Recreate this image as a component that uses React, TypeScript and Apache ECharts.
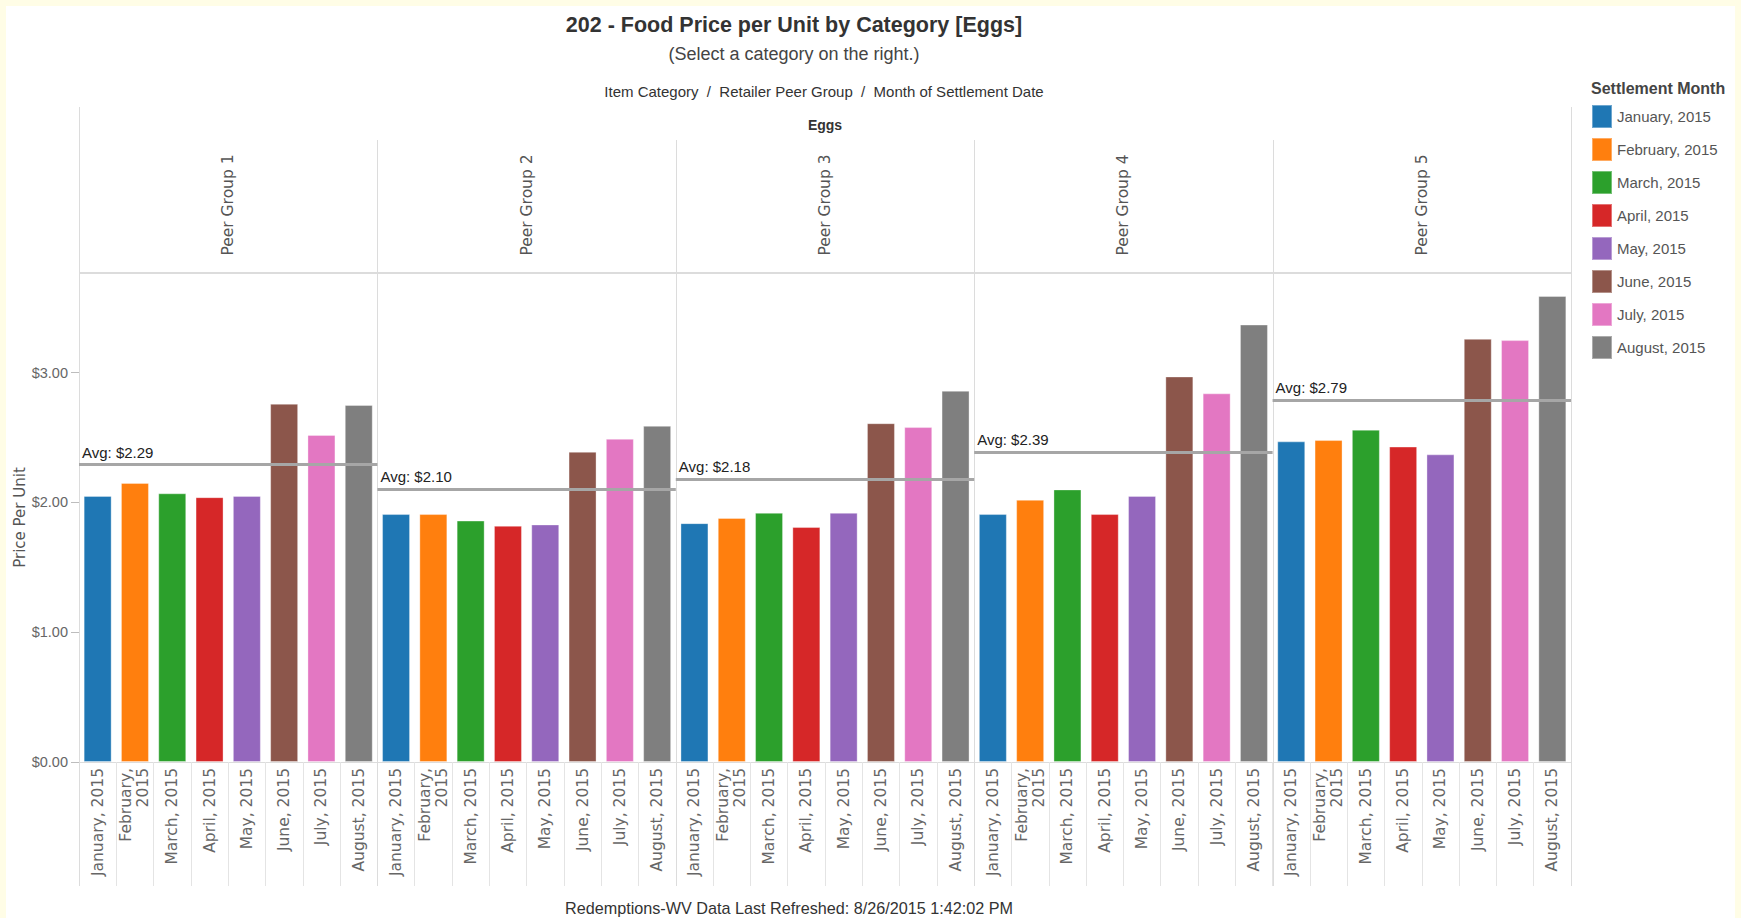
import React, { useEffect, useRef } from "react";
import * as echarts from "echarts";

// ---------------- data ----------------
const CATEGORY = "Eggs";
const PEER_GROUPS = ["Peer Group 1", "Peer Group 2", "Peer Group 3", "Peer Group 4", "Peer Group 5"];
const MONTHS = [
  "January, 2015",
  "February, 2015",
  "March, 2015",
  "April, 2015",
  "May, 2015",
  "June, 2015",
  "July, 2015",
  "August, 2015",
];
const PRICES_G1 = [2.05, 2.15, 2.07, 2.04, 2.05, 2.76, 2.52, 2.75];
const PRICES_G2 = [1.91, 1.91, 1.86, 1.82, 1.83, 2.39, 2.49, 2.59];
const PRICES_G3 = [1.84, 1.88, 1.92, 1.81, 1.92, 2.61, 2.58, 2.86];
const PRICES_G4 = [1.91, 2.02, 2.1, 1.91, 2.05, 2.97, 2.84, 3.37];
const PRICES_G5 = [2.47, 2.48, 2.56, 2.43, 2.37, 3.26, 3.25, 3.59];
const AVERAGES = [2.29, 2.1, 2.18, 2.39, 2.79];
const Y_TICKS = [0, 1, 2, 3];
const COLORS = ["#1f77b4", "#ff7f0e", "#2ca02c", "#d62728", "#9467bd", "#8c564b", "#e377c2", "#7f7f7f"];

const PRICES = [PRICES_G1, PRICES_G2, PRICES_G3, PRICES_G4, PRICES_G5];

// ---------------- layout ----------------
const PLOT_L = 79;
const PLOT_R = 1571;
const PLOT_T = 273;
const PLOT_B = 762;
const PANEL_W = (PLOT_R - PLOT_L) / 5;
const Y_MAX = 3.767;
const LINE_C = "#dcdcdc";
const SANS = "'Liberation Sans', Arial, sans-serif";
const WIDE = "'DejaVu Sans', sans-serif";

function buildOption() {
  const grids = PEER_GROUPS.map((_, g) => ({
    left: PLOT_L + g * PANEL_W,
    top: PLOT_T,
    width: PANEL_W,
    height: PLOT_B - PLOT_T,
    containLabel: false,
  }));

  const xAxes = PEER_GROUPS.map((_, g) => ({
    type: "category",
    gridIndex: g,
    data: MONTHS,
    axisLine: { show: true, lineStyle: { color: LINE_C, width: 1 } },
    axisTick: { show: true, interval: 0, length: 124, lineStyle: { color: "#e4e4e4" } },
    axisLabel: {
      interval: 0,
      rotate: 90,
      margin: 6,
      fontFamily: WIDE,
      fontSize: 15.5,
      color: "#666",
      lineHeight: 17,
      formatter: (v: string) => (v.length > 13 ? v.replace(", ", ",\n") : v),
    },
    splitLine: { show: false },
  }));

  const yAxes = PEER_GROUPS.map((_, g) => ({
    type: "value",
    gridIndex: g,
    min: 0,
    max: Y_MAX,
    show: g === 0,
    splitLine: { show: false },
    axisLine: { show: false },
    axisTick: {
      show: g === 0,
      length: 8,
      customValues: Y_TICKS,
      lineStyle: { color: "#bdbdbd" },
    },
    axisLabel: {
      show: g === 0,
      customValues: Y_TICKS,
      margin: 11,
      fontFamily: SANS,
      fontSize: 14.5,
      color: "#666",
      formatter: (v: number) => (Number.isInteger(v) ? "$" + v.toFixed(2) : ""),
    },
    name: g === 0 ? "Price Per Unit" : "",
    nameLocation: "middle",
    nameRotate: 90,
    nameGap: 52,
    nameTextStyle: { fontFamily: WIDE, fontSize: 15, color: "#555" },
  }));

  const series: any[] = [];
  PEER_GROUPS.forEach((_, g) => {
    MONTHS.forEach((month, m) => {
      const s: any = {
        type: "bar",
        name: month,
        xAxisIndex: g,
        yAxisIndex: g,
        stack: "group" + g,
        barWidth: 28,
        itemStyle: { color: COLORS[m], borderColor: "rgba(255,255,255,0.35)", borderWidth: 1 },
        data: MONTHS.map((_, k) => (k === m ? PRICES[g][m] : "-")),
      };
      if (m === 0) {
        s.markLine = {
          silent: true,
          symbol: "none",
          z: 10,
          data: [{ yAxis: AVERAGES[g] }],
          lineStyle: { color: "#a6a6a6", width: 3, type: "solid" },
          label: {
            show: true,
            position: "insideStartTop",
            distance: [3, 5],
            formatter: "Avg: $" + AVERAGES[g].toFixed(2),
            fontFamily: SANS,
            fontSize: 15,
            color: "#222",
          },
        };
      }
      series.push(s);
    });
  });

  const graphics: any[] = [];
  graphics.push({
    type: "rect",
    z: -10,
    shape: { x: 6, y: 6, width: 1729, height: 920 },
    style: { fill: "#ffffff" },
    silent: true,
  });
  graphics.push({
    type: "line",
    z: 1,
    shape: { x1: PLOT_L + 0.5, y1: 107, x2: PLOT_L + 0.5, y2: 886 },
    style: { stroke: LINE_C, lineWidth: 1 },
    silent: true,
  });
  graphics.push({
    type: "line",
    z: 1,
    shape: { x1: PLOT_R + 0.5, y1: 107, x2: PLOT_R + 0.5, y2: 886 },
    style: { stroke: LINE_C, lineWidth: 1 },
    silent: true,
  });
  for (let i = 1; i < 5; i++) {
    const x = Math.round(PLOT_L + i * PANEL_W) + 0.5;
    graphics.push({
      type: "line",
      z: 1,
      shape: { x1: x, y1: 140, x2: x, y2: 886 },
      style: { stroke: LINE_C, lineWidth: 1 },
      silent: true,
    });
  }
  graphics.push({
    type: "line",
    z: 1,
    shape: { x1: PLOT_L, y1: PLOT_T, x2: PLOT_R, y2: PLOT_T },
    style: { stroke: LINE_C, lineWidth: 2 },
    silent: true,
  });
  graphics.push({
    type: "text",
    x: 824,
    y: 91,
    style: {
      text: "Item Category  /  Retailer Peer Group  /  Month of Settlement Date",
      fontFamily: SANS,
      fontSize: 15,
      fill: "#333",
      align: "center",
      verticalAlign: "middle",
    },
  });
  graphics.push({
    type: "text",
    x: (PLOT_L + PLOT_R) / 2,
    y: 125,
    style: {
      text: CATEGORY,
      fontFamily: SANS,
      fontSize: 14,
      fontWeight: "bold",
      fill: "#333",
      align: "center",
      verticalAlign: "middle",
    },
  });
  PEER_GROUPS.forEach((name, g) => {
    graphics.push({
      type: "text",
      x: PLOT_L + (g + 0.5) * PANEL_W,
      y: 205,
      rotation: Math.PI / 2,
      style: {
        text: name,
        fontFamily: WIDE,
        fontSize: 15.5,
        fill: "#555",
        align: "center",
        verticalAlign: "middle",
      },
    });
  });
  graphics.push({
    type: "text",
    x: 1591,
    y: 88,
    style: {
      text: "Settlement Month",
      fontFamily: SANS,
      fontSize: 16,
      fontWeight: "bold",
      fill: "#444",
      align: "left",
      verticalAlign: "middle",
    },
  });
  graphics.push({
    type: "text",
    x: 789,
    y: 908,
    style: {
      text: "Redemptions-WV Data Last Refreshed: 8/26/2015 1:42:02 PM",
      fontFamily: SANS,
      fontSize: 16.2,
      fill: "#333",
      align: "center",
      verticalAlign: "middle",
    },
  });

  return {
    animation: false,
    backgroundColor: "#fffde6",
    textStyle: { fontFamily: SANS },
    title: {
      text: "202 - Food Price per Unit by Category [" + CATEGORY + "]",
      subtext: "(Select a category on the right.)",
      left: 789,
      textAlign: "center",
      top: 9,
      itemGap: 9,
      textStyle: { fontFamily: SANS, fontSize: 21.5, fontWeight: "bold", color: "#333" },
      subtextStyle: { fontFamily: SANS, fontSize: 18, color: "#444" },
    },
    legend: {
      data: MONTHS,
      orient: "vertical",
      left: 1591,
      top: 104,
      padding: 0,
      itemWidth: 20,
      itemHeight: 23,
      itemGap: 8,
      icon: "rect",
      selectedMode: false,
      textStyle: { fontFamily: SANS, fontSize: 15, color: "#555", lineHeight: 18 },
    },
    grid: grids,
    xAxis: xAxes,
    yAxis: yAxes,
    series,
    graphic: graphics,
  };
}

export default function App() {
  const ref = useRef<HTMLDivElement>(null);
  useEffect(() => {
    if (!ref.current) return;
    const chart = echarts.init(ref.current, undefined, { renderer: "svg" });
    chart.setOption(buildOption() as any);
    return () => chart.dispose();
  }, []);
  return (
    <div
      ref={ref}
      style={{ position: "fixed", left: 0, top: 0, width: 1741, height: 918 }}
    />
  );
}
